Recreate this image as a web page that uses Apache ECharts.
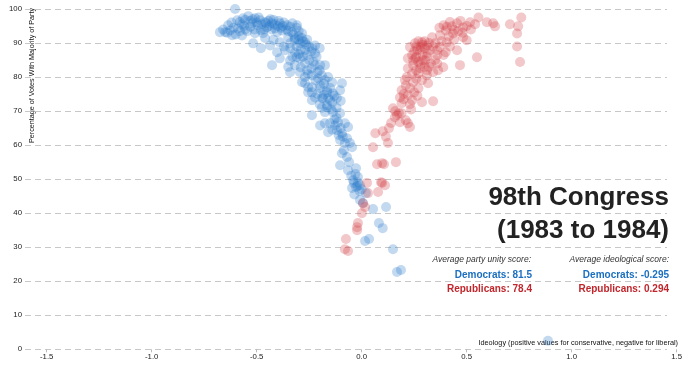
<!DOCTYPE html>
<html>
<head>
<meta charset="utf-8">
<script src="https://cdn.jsdelivr.net/npm/echarts@6/dist/echarts.min.js"></script>
<style>
html,body{margin:0;padding:0;background:#fff;}
#chart{width:690px;height:366px;}
</style>
</head>
<body>
<div id="chart"></div>
<script>
// ---- data ----
const demPoints = [
  [-0.603,100],[-0.675,93.2],[-0.65,93.2],[-0.627,93.7],[-0.617,92.3],[-0.636,95.2],[-0.593,96.7],[-0.589,94.3],
  [-0.565,97.3],[-0.555,94.0],[-0.54,97.9],[-0.522,95.8],[-0.508,97.3],[-0.508,92.9],[-0.494,95.2],[-0.484,96.7],
  [-0.47,92.9],[-0.46,96.1],[-0.451,94.6],[-0.427,95.8],[-0.413,94.3],[-0.403,93.2],[-0.39,95.8],[-0.379,93.7],
  [-0.355,95.2],[-0.332,93.2],[-0.35,91.7],[-0.318,91.4],[-0.284,92.9],[-0.308,95.2],
  [-0.58,96.2],[-0.57,95.5],[-0.555,96.8],[-0.53,96.5],[-0.52,97.0],[-0.50,96.0],[-0.49,97.5],[-0.475,95.5],
  [-0.465,94.0],[-0.445,96.5],[-0.44,95.0],[-0.43,94.0],[-0.42,96.8],[-0.40,95.0],[-0.385,94.5],[-0.37,96.0],
  [-0.36,94.0],[-0.34,94.8],[-0.33,95.8],[-0.31,94.5],[-0.30,93.5],[-0.545,93.5],[-0.61,94.5],[-0.66,94.0],
  [-0.60,92.5],[-0.57,92.2],
  [-0.56,95.0],[-0.53,94.8],[-0.51,94.0],[-0.48,93.8],[-0.455,95.8],[-0.435,97.0],[-0.415,95.5],[-0.395,96.5],
  [-0.375,95.0],[-0.35,93.5],[-0.325,92.5],[-0.30,92.0],[-0.62,96.0],[-0.64,93.0],[-0.58,93.5],
  [-0.517,89.9],[-0.436,89.3],[-0.39,90.2],[-0.341,89.9],[-0.294,89.9],[-0.27,90.2],[-0.222,89.3],[-0.403,87.3],
  [-0.365,87.9],[-0.318,87.3],[-0.27,87.9],[-0.222,87.0],[-0.39,85.5],[-0.341,84.9],[-0.294,85.5],
  [-0.32,91.0],[-0.30,90.8],[-0.285,91.5],[-0.26,91.0],[-0.25,89.0],[-0.31,89.0],[-0.29,88.0],[-0.34,88.5],
  [-0.24,87.5],[-0.20,88.5],[-0.26,86.5],[-0.28,86.0],[-0.31,85.8],[-0.25,85.0],[-0.46,91.5],[-0.42,91.0],
  [-0.37,89.0],[-0.48,88.5],[-0.28,90.5],[-0.265,89.5],[-0.235,88.5],[-0.215,86.0],[-0.30,86.8],[-0.33,86.0],
  [-0.427,83.5],[-0.318,83.5],[-0.27,84.0],[-0.222,83.5],[-0.198,83.5],[-0.175,83.5],[-0.341,81.4],[-0.294,81.4],
  [-0.27,80.0],[-0.237,80.5],[-0.208,79.6],[-0.175,79.1],[-0.141,78.5],[-0.27,78.2],[-0.284,78.5],[-0.255,77.0],
  [-0.198,77.6],[-0.094,78.2],[-0.24,82.5],[-0.21,81.5],[-0.23,84.5],[-0.19,80.5],[-0.16,80.0],[-0.26,82.0],
  [-0.20,82.0],[-0.35,83.0],[-0.29,82.8],[-0.255,80.8],[-0.22,79.0],[-0.18,78.0],[-0.15,76.8],
  [-0.237,77.0],[-0.198,76.7],[-0.165,75.5],[-0.255,75.5],[-0.222,74.0],[-0.184,73.8],[-0.151,73.2],[-0.237,73.2],
  [-0.165,71.1],[-0.237,75.5],[-0.165,76.1],[-0.137,75.2],[-0.103,76.1],[-0.189,73.8],[-0.16,73.8],[-0.118,73.8],
  [-0.165,71.7],[-0.21,75.0],[-0.18,74.8],[-0.14,72.5],[-0.13,74.5],[-0.20,72.0],[-0.12,71.0],[-0.10,73.0],
  [-0.19,71.0],[-0.145,70.5],
  [-0.175,69.7],[-0.237,68.8],[-0.137,69.7],[-0.103,69.4],[-0.198,65.8],[-0.175,66.4],[-0.151,66.4],[-0.127,65.8],
  [-0.113,66.7],[-0.08,66.4],[-0.16,63.8],[-0.118,64.4],[-0.094,63.5],[-0.065,65.3],[-0.103,61.5],[-0.08,60.6],
  [-0.056,60.6],[-0.046,59.4],[-0.12,68.0],[-0.09,62.5],[-0.07,62.0],[-0.10,65.0],[-0.13,67.5],[-0.14,64.5],
  [-0.11,63.0],
  [-0.094,57.6],[-0.07,56.5],[-0.103,54.1],[-0.065,52.6],[-0.027,53.2],[-0.041,49.7],[-0.018,49.1],[-0.027,47.7],
  [-0.046,47.4],[-0.008,48.2],[-0.018,50.6],[-0.037,48.9],[-0.008,43.9],[0.02,45.9],[0.006,43.0],[-0.03,51.5],
  [-0.02,48.0],[-0.085,58.5],[-0.06,55.0],[-0.05,51.0],[-0.01,46.5],[-0.035,45.5],[0.0,47.0],
  [0.054,41.2],[0.116,41.8],[0.082,37.1],[0.10,35.6],[0.016,31.8],[0.035,32.4],[0.149,29.4],[0.168,22.7],
  [0.187,23.3],[0.887,2.5]
];
const repPoints = [
  [0.556,97.5],[0.516,96.1],[0.54,95.5],[0.483,94.6],[0.454,95.8],[0.43,94.9],[0.39,95.2],[0.40,93.7],
  [0.435,92.8],[0.483,91.7],[0.50,90.8],[0.596,96.1],[0.626,95.8],[0.635,94.9],[0.706,95.5],[0.745,94.9],
  [0.76,97.5],[0.74,92.8],[0.74,89.0],[0.754,84.4],[0.549,85.8],[0.454,87.9],[0.468,83.5],[0.373,92.3],
  [0.335,91.7],[0.35,89.9],[0.405,90.2],[0.40,87.3],[0.359,87.9],
  [0.46,93.5],[0.42,96.2],[0.44,93.8],[0.50,95.0],[0.47,96.5],[0.415,92.0],[0.38,90.5],
  [0.42,89.0],[0.44,91.0],[0.48,93.0],[0.52,94.0],[0.37,94.5],[0.405,94.8],
  [0.23,88.8],[0.254,89.9],[0.287,90.2],[0.311,89.3],[0.278,87.9],[0.325,87.9],[0.373,88.8],[0.245,84.9],
  [0.302,84.9],[0.245,83.5],[0.22,82.6],[0.278,82.6],[0.311,82.0],[0.364,82.0],[0.27,81.1],[0.34,81.4],
  [0.388,82.9],
  [0.26,89.0],[0.27,90.5],[0.30,88.5],[0.29,89.5],[0.25,87.5],[0.32,90.0],[0.34,89.0],[0.26,86.0],
  [0.29,86.5],[0.31,86.0],[0.27,84.5],[0.33,84.0],[0.28,83.8],[0.35,85.0],[0.24,86.5],[0.22,85.5],
  [0.30,83.0],[0.36,86.5],[0.28,88.9],[0.30,90.5],[0.265,88.0],[0.315,87.0],[0.255,85.5],[0.29,85.0],
  [0.32,83.0],[0.26,82.0],[0.24,81.0],[0.31,80.5],[0.36,84.0],[0.39,86.5],
  [0.206,79.1],[0.245,78.5],[0.287,79.1],[0.19,76.1],[0.23,76.7],[0.27,76.7],[0.316,78.2],[0.182,74.0],
  [0.22,74.7],[0.24,73.2],[0.287,72.6],[0.34,72.9],[0.149,70.8],[0.19,72.3],[0.177,69.4],[0.23,72.0],
  [0.21,77.5],[0.25,75.5],[0.20,75.0],[0.26,79.5],[0.215,80.0],[0.2,73.5],[0.235,70.5],[0.265,74.5],
  [0.065,63.5],[0.10,64.1],[0.13,65.0],[0.054,59.4],[0.125,60.6],[0.168,68.8],[0.19,69.4],[0.21,67.3],
  [0.22,66.4],[0.23,65.3],[0.158,68.2],[0.182,66.7],[0.16,70.0],[0.14,66.5],[0.115,62.5],
  [0.073,54.4],[0.097,54.7],[0.106,54.4],[0.163,55.0],[0.025,48.9],[0.097,48.9],[0.111,48.2],[0.078,46.2],
  [0.03,45.9],[0.006,42.9],[0.016,41.8],[0.001,40.0],[-0.018,37.1],[-0.022,35.9],[-0.022,35.0],[-0.075,32.4],
  [-0.08,29.4],[-0.065,28.9],[0.092,49.1]
];
const xTicks = [-1.5, -1.0, -0.5, 0.0, 0.5, 1.0, 1.5];
const yTicks = [0, 10, 20, 30, 40, 50, 60, 70, 80, 90, 100];
const titleLines = ['98th Congress', '(1983 to 1984)'];
const unityDem = 81.5, unityRep = 78.4;
const ideoDem = -0.295, ideoRep = 0.294;

// ---- chart ----
const FONT = '"Liberation Sans", Arial, Helvetica, sans-serif';
const BLUE = '#1a6fc0', RED = '#c0262c';
const chart = echarts.init(document.getElementById('chart'), null, {renderer: 'canvas'});

// plot frame in pixels
const plotTop = 9, plotBottom = 366 - 349.3;
const xL = 46.7, xR = 676.7;          // positions of -1.5 and 1.5
const gridL = 25, gridR = 667;        // visible extent of the dashed grid lines
const pxPerUnit = (xR - xL) / (xTicks[xTicks.length-1] - xTicks[0]);
const bgMin = xTicks[0] - (xL - gridL) / pxPerUnit;
const bgMax = xTicks[xTicks.length-1] - (xR - gridR) / pxPerUnit;

const option = {
  animation: false,
  backgroundColor: '#fff',
  grid: [
    {left: gridL, right: 690 - gridR, top: plotTop, bottom: plotBottom},
    {left: xL, right: 690 - xR, top: plotTop, bottom: plotBottom}
  ],
  xAxis: [
    {gridIndex: 0, type: 'value', min: bgMin, max: bgMax, show: false},
    {gridIndex: 1, type: 'value', min: xTicks[0], max: xTicks[xTicks.length-1], interval: 0.5,
     axisLine: {show: false},
     axisTick: {show: true, length: 3, inside: false, lineStyle: {color: '#bbb', width: 1}},
     splitLine: {show: false},
     axisLabel: {fontFamily: FONT, fontSize: 7.8, color: '#222', margin: 4,
       formatter: v => v.toFixed(1)}}
  ],
  yAxis: [
    {gridIndex: 0, type: 'value', min: yTicks[0], max: yTicks[yTicks.length-1], interval: 10,
     axisLine: {show: false}, axisTick: {show: false},
     splitLine: {show: true, lineStyle: {color: '#c8c8c8', width: 1, type: [6, 4]}},
     axisLabel: {fontFamily: FONT, fontSize: 7.8, color: '#222', margin: 3}},
    {gridIndex: 1, type: 'value', min: yTicks[0], max: yTicks[yTicks.length-1], show: false}
  ],
  series: [
    {type: 'scatter', xAxisIndex: 1, yAxisIndex: 1, data: demPoints, symbolSize: 10,
     itemStyle: {color: '#2577c8', opacity: 0.28}, emphasis: {disabled: true}},
    {type: 'scatter', xAxisIndex: 1, yAxisIndex: 1, data: repPoints, symbolSize: 10,
     itemStyle: {color: '#d03a3f', opacity: 0.28}, emphasis: {disabled: true}}
  ],
  graphic: [
    {type: 'text', x: 32, y: 8, rotation: Math.PI / 2,
     style: {text: 'Percentage of Votes With Majority of Party', font: '7.2px ' + FONT, fill: '#111',
       textAlign: 'right', textVerticalAlign: 'middle'}},
    {type: 'text', x: 678, y: 343,
     style: {text: 'Ideology (positive values for conservative, negative for liberal)', font: '7.3px ' + FONT,
       fill: '#111', textAlign: 'right', textVerticalAlign: 'middle'}},
    {type: 'text', x: 669, y: 198,
     style: {text: titleLines[0], font: 'bold 26px ' + FONT, fill: '#222', textAlign: 'right', textVerticalAlign: 'middle'}},
    {type: 'text', x: 669, y: 231,
     style: {text: titleLines[1], font: 'bold 26px ' + FONT, fill: '#222', textAlign: 'right', textVerticalAlign: 'middle'}},
    {type: 'text', x: 531, y: 260,
     style: {text: 'Average party unity score:', font: 'italic 8.5px ' + FONT, fill: '#333', textAlign: 'right', textVerticalAlign: 'middle'}},
    {type: 'text', x: 532, y: 275,
     style: {text: 'Democrats: ' + unityDem.toFixed(1), font: 'bold 10px ' + FONT, fill: BLUE, textAlign: 'right', textVerticalAlign: 'middle'}},
    {type: 'text', x: 532, y: 289,
     style: {text: 'Republicans: ' + unityRep.toFixed(1), font: 'bold 10px ' + FONT, fill: RED, textAlign: 'right', textVerticalAlign: 'middle'}},
    {type: 'text', x: 669, y: 260,
     style: {text: 'Average ideological score:', font: 'italic 8.5px ' + FONT, fill: '#333', textAlign: 'right', textVerticalAlign: 'middle'}},
    {type: 'text', x: 669, y: 275,
     style: {text: 'Democrats: ' + ideoDem.toFixed(3), font: 'bold 10px ' + FONT, fill: BLUE, textAlign: 'right', textVerticalAlign: 'middle'}},
    {type: 'text', x: 669, y: 289,
     style: {text: 'Republicans: ' + ideoRep.toFixed(3), font: 'bold 10px ' + FONT, fill: RED, textAlign: 'right', textVerticalAlign: 'middle'}}
  ]
};
chart.setOption(option);
</script>
</body>
</html>
